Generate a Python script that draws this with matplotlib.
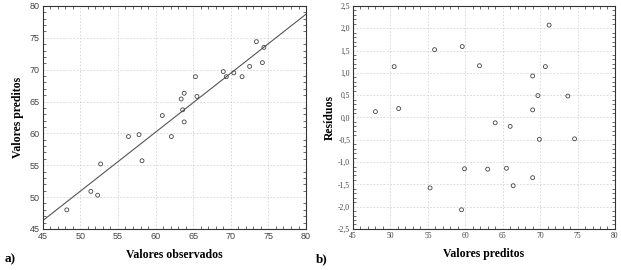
import matplotlib
matplotlib.use("Agg")
import matplotlib.pyplot as plt
import numpy as np
from matplotlib.ticker import MultipleLocator, FuncFormatter

# Panel a) observed vs predicted
observed = [48.2, 51.4, 52.3, 52.7, 56.4, 57.8, 58.2, 60.9, 62.1, 63.6, 63.4, 63.8, 63.8,
            65.3, 65.5, 69.0, 69.4, 70.4, 71.5, 72.5, 73.4, 74.2, 74.4]
predicted = [48.0, 50.9, 50.3, 55.2, 59.5, 59.8, 55.7, 62.8, 59.5, 63.7, 65.4, 66.3, 61.8,
             68.9, 65.8, 69.7, 68.9, 69.5, 68.9, 70.5, 74.4, 71.1, 73.5]
fit_slope = 0.926
fit_intercept = 4.63

# Panel b) predicted vs residuals
pred_b = [48.0, 50.5, 51.1, 55.9, 59.6, 61.9, 64.0, 66.0, 69.0, 69.7, 69.0, 70.7, 71.2, 73.7,
          69.9, 74.6, 59.9, 63.0, 65.5, 69.0, 66.4, 55.3, 59.5]
residuals = [0.13, 1.14, 0.20, 1.52, 1.59, 1.16, -0.12, -0.20, 0.93, 0.49, 0.17, 1.14, 2.07, 0.48,
             -0.49, -0.48, -1.15, -1.16, -1.14, -1.35, -1.53, -1.58, -2.07]

xticks = [45, 50, 55, 60, 65, 70, 75, 80]
yticks_a = [45, 50, 55, 60, 65, 70, 75, 80]
yticks_b = [-2.5, -2.0, -1.5, -1.0, -0.5, 0.0, 0.5, 1.0, 1.5, 2.0, 2.5]

fig = plt.figure(figsize=(6.21, 2.70), dpi=100)
ax1 = fig.add_axes([0.0688, 0.152, 0.424, 0.826])
ax2 = fig.add_axes([0.5684, 0.152, 0.4219, 0.826])

tickfont = ['Liberation Sans Narrow', 'Liberation Sans', 'DejaVu Sans']
tickfont_b = ['Liberation Serif', 'DejaVu Serif']
labelfont = ['Liberation Serif', 'DejaVu Serif']

for ax in (ax1, ax2):
    ax.grid(True, color='#d4d4d4', linestyle=(0, (2, 2)), linewidth=0.6)
    ax.set_axisbelow(True)
    ax.tick_params(which='both', direction='in', top=True, right=True, color='#555555')
    ax.tick_params(which='major', length=0, labelsize=6.5, labelcolor='#444444', pad=2)
    ax.tick_params(which='minor', length=2)
    for s in ax.spines.values():
        s.set_linewidth(0.8)
        s.set_color('#333333')

# panel a
ax1.scatter(observed, predicted, s=8, facecolors='none', edgecolors='#444444', linewidths=0.6, zorder=3)
xl = np.array([45, 80])
ax1.plot(xl, fit_slope * xl + fit_intercept, color='#555555', linewidth=0.8, zorder=2)
ax1.set_xlim(45, 80)
ax1.set_ylim(45, 80)
ax1.set_xticks(xticks)
ax1.set_yticks(yticks_a)
ax1.xaxis.set_minor_locator(MultipleLocator(1))
ax1.yaxis.set_minor_locator(MultipleLocator(1))
for lab in ax1.get_xticklabels() + ax1.get_yticklabels():
    lab.set_family(tickfont)
ax1.set_xlabel('Valores observados', family=labelfont, fontweight='bold', fontsize=8.5, labelpad=6)
ax1.set_ylabel('Valores preditos', family=labelfont, fontweight='bold', fontsize=8.5, labelpad=4)

# panel b
ax2.scatter(pred_b, residuals, s=8, facecolors='none', edgecolors='#444444', linewidths=0.6, zorder=3)
ax2.set_xlim(45, 80)
ax2.set_ylim(-2.5, 2.5)
ax2.set_xticks(xticks)
ax2.set_yticks(yticks_b)
ax2.xaxis.set_minor_locator(MultipleLocator(1))
ax2.yaxis.set_minor_locator(MultipleLocator(0.1))
ax2.yaxis.set_major_formatter(FuncFormatter(lambda v, p: f"{v:.1f}".replace('.', ',')))
for lab in ax2.get_xticklabels() + ax2.get_yticklabels():
    lab.set_family(tickfont_b)
    lab.set_fontsize(5.5)
ax2.set_xlabel('Valores preditos', family=labelfont, fontweight='bold', fontsize=8.5, labelpad=6)
ax2.set_ylabel('Resíduos', family=labelfont, fontweight='bold', fontsize=8.5, labelpad=2)

fig.text(0.008, 0.03, 'a)', family=labelfont, fontweight='bold', fontsize=9.5)
fig.text(0.508, 0.03, 'b)', family=labelfont, fontweight='bold', fontsize=9.5)

fig.savefig('out.png', dpi=100)
